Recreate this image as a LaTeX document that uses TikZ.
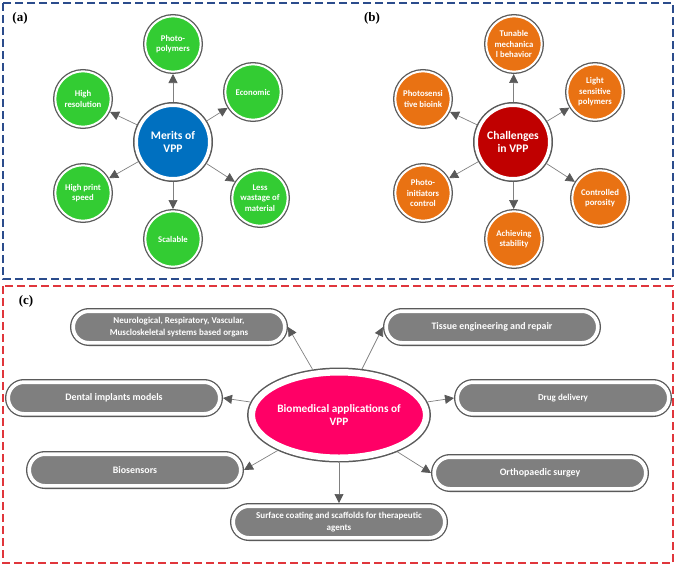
\documentclass[tikz,border=0pt]{standalone}
\usepackage{fontspec}
\setmainfont{Liberation Serif}
\newfontfamily\carlito{Carlito}
\usetikzlibrary{arrows.meta,shapes.geometric,shapes.misc}
\definecolor{vgreen}{HTML}{33CC33}
\definecolor{vblue}{HTML}{0070C0}
\definecolor{vorange}{HTML}{E97213}
\definecolor{vdred}{HTML}{C00000}
\definecolor{vpink}{HTML}{FF0066}
\definecolor{pillgray}{HTML}{7F7F7F}
\definecolor{ringgray}{HTML}{5A5A5A}
\definecolor{linegray}{HTML}{808080}
\definecolor{tipgray}{HTML}{595959}
\definecolor{boxblue}{HTML}{2B4C8C}
\definecolor{boxred}{HTML}{E0363C}
\tikzset{
  sat/.style={circle, minimum size=55.4pt, inner sep=0pt, draw=white, line width=2pt,
    preaction={draw=ringgray, line width=4.6pt}, outer sep=2.3pt, text=white,
    font=\carlito\bfseries\fontsize{8.7}{10.5}\selectfont, align=center},
  cen/.style={circle, minimum size=73.5pt, inner sep=0pt, draw=white, line width=3.5pt,
    preaction={draw=ringgray, line width=6.5pt}, outer sep=3.25pt, text=white,
    font=\carlito\bfseries\fontsize{11.6}{13.5}\selectfont, align=center},
  pill/.style={rounded rectangle, minimum width=211.7pt, minimum height=31.7pt, inner sep=0pt,
    draw=white, line width=3.7pt, preaction={draw=ringgray, line width=6.3pt}, outer sep=3.15pt,
    fill=pillgray, text=white, font=\carlito\bfseries\fontsize{9.9}{11.5}\selectfont, align=center},
  pillsmall/.style={font=\carlito\bfseries\fontsize{9}{11.7}\selectfont},
  bioell/.style={ellipse, minimum width=172.5pt, minimum height=85.5pt, inner sep=0pt,
    draw=white, line width=6.5pt, preaction={draw=ringgray, line width=9.5pt}, outer sep=4.75pt,
    fill=vpink, text=white, font=\carlito\bfseries\fontsize{11.3}{13.5}\selectfont, align=center},
  arr/.style={draw=linegray, line width=0.7pt, -{Triangle[length=9pt,width=9pt,color=tipgray]}},
  panelbox/.style={dash pattern=on 8pt off 4pt, line width=1.4pt},
  plabel/.style={font=\bfseries\fontsize{13}{15}\selectfont, inner sep=0pt},
}
\begin{document}
\begin{tikzpicture}[x=1pt,y=-1pt]
\useasboundingbox (0,0) rectangle (677,566);
% panel frames
\draw[panelbox, boxblue] (3,3) rectangle (673,279);
\draw[panelbox, boxred] (3,286) rectangle (673,563);
\node[plabel] (la) at (20,18) {(a)};
\node[plabel] (lb) at (372,18) {(b)};
\node[plabel] (lc) at (26,301) {(c)};
% panel (a)
\node[cen, fill=vblue] (a0) at (173,142) {Merits of\\VPP};
\node[sat, fill=vgreen] (a1) at (173,44) {Photo-\\polymers};
\node[sat, fill=vgreen] (a2) at (253,92) {Economic};
\node[sat, fill=vgreen] (a3) at (83,99) {High\\resolution};
\node[sat, fill=vgreen] (a4) at (83,193) {High print\\speed};
\node[sat, fill=vgreen] (a5) at (260,198) {Less\\wastage of\\material};
\node[sat, fill=vgreen] (a6) at (173,239) {Scalable};
\foreach \t in {a1,a2,a3,a4,a5,a6} \draw[arr] (a0) -- (\t);
% panel (b)
\node[cen, fill=vdred] (b0) at (513,142) {Challenges\\in VPP};
\node[sat, fill=vorange] (b1) at (514,44) {Tunable\\mechanica\\l behavior};
\node[sat, fill=vorange] (b2) at (595,92) {Light\\sensitive\\polymers};
\node[sat, fill=vorange] (b3) at (423,99) {Photosensi\\tive bioink};
\node[sat, fill=vorange] (b4) at (423,193) {Photo-\\initiators\\control};
\node[sat, fill=vorange] (b5) at (600,198) {Controlled\\porosity};
\node[sat, fill=vorange] (b6) at (514,239) {Achieving\\stability};
\foreach \t in {b1,b2,b3,b4,b5,b6} \draw[arr] (b0) -- (\t);
% panel (c)
\node[bioell] (c0) at (339,415) {Biomedical applications of\\VPP};
\node[pill, pillsmall] (c1) at (179,327) {Neurological, Respiratory, Vascular,\\Muscloskeletal systems based organs};
\node[pill] (c2) at (492,327) {Tissue engineering and repair};
\node[pill] (c3) at (114,398) {Dental implants models};
\node[pill, font=\carlito\bfseries\fontsize{9}{11}\selectfont] (c4) at (563,398) {Drug delivery};
\node[pill] (c5) at (135,470) {Biosensors};
\node[pill] (c6) at (540,473) {Orthopaedic surgey};
\node[pill, pillsmall] (c7) at (339,522) {Surface coating and scaffolds for therapeutic\\agents};
\draw[arr] (c0) -- (c1.east);
\draw[arr] (c0) -- (c2.west);
\draw[arr] (c0) -- (c3.east);
\draw[arr] (c0) -- (c4.west);
\draw[arr] (c0) -- (c5.east);
\draw[arr] (c0) -- (c6.west);
\draw[arr] (c0) -- (c7.north);
\end{tikzpicture}
\end{document}
